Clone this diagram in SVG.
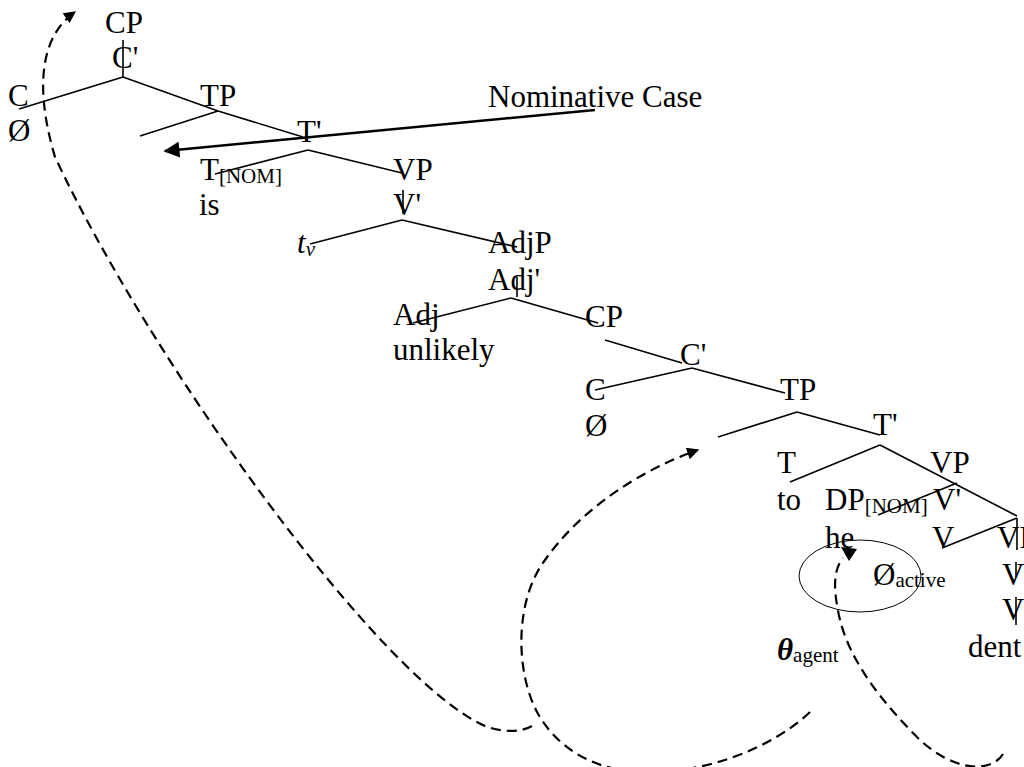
<svg xmlns="http://www.w3.org/2000/svg" width="1024" height="767" viewBox="0 0 1024 767">
<style>
  text { font-family: "Liberation Serif", "Times New Roman", serif; font-size: 31px; fill: #000; }
  .s { font-size: 21px; }
  .i { font-style: italic; }
  .tree { stroke: #000; stroke-width: 1.6; fill: none; stroke-linecap: butt; }
  .dash { stroke: #000; stroke-width: 2.2; fill: none; stroke-dasharray: 10 6; }
  .case { stroke: #000; stroke-width: 2.5; fill: none; }
</style>
<defs>
  <marker id="ah" viewBox="0 0 10 10" refX="9" refY="5" markerUnits="userSpaceOnUse" markerWidth="15" markerHeight="12" orient="auto">
    <path d="M0,0 L10,5 L0,10 z" fill="#000" stroke="none"/>
  </marker>
  <marker id="ahbig" viewBox="0 0 10 10" refX="9" refY="5" markerUnits="userSpaceOnUse" markerWidth="18" markerHeight="16" orient="auto">
    <path d="M0,0 L10,5 L0,10 z" fill="#000" stroke="none"/>
  </marker>
</defs>
<rect width="1024" height="767" fill="#fff"/>

<g id="connectors">
  <!-- tree branches -->
  <line class="tree" x1="123" y1="40" x2="123" y2="77"/>
  <line class="tree" x1="123" y1="77" x2="19" y2="109"/>
  <line class="tree" x1="123" y1="77" x2="218" y2="111"/>
  <line class="tree" x1="218" y1="111" x2="140" y2="136"/>
  <line class="tree" x1="218" y1="111" x2="303" y2="137"/>
  <line class="tree" x1="308" y1="150" x2="215" y2="174"/>
  <line class="tree" x1="308" y1="150" x2="402" y2="173"/>
  <line class="tree" x1="403" y1="190" x2="403" y2="214"/>
  <line class="tree" x1="402" y1="220" x2="310" y2="244"/>
  <line class="tree" x1="402" y1="220" x2="517" y2="247"/>
  <line class="tree" x1="517" y1="277" x2="517" y2="297"/>
  <line class="tree" x1="511" y1="298" x2="413" y2="323"/>
  <line class="tree" x1="511" y1="298" x2="598" y2="323"/>
  <line class="tree" x1="605" y1="340" x2="682" y2="363"/>
  <line class="tree" x1="692" y1="368" x2="595" y2="390"/>
  <line class="tree" x1="692" y1="368" x2="785" y2="393"/>
  <line class="tree" x1="797" y1="412" x2="718" y2="437"/>
  <line class="tree" x1="797" y1="412" x2="880" y2="435"/>
  <line class="tree" x1="880" y1="445" x2="790" y2="482"/>
  <line class="tree" x1="880" y1="445" x2="1017" y2="516"/>
  <line class="tree" x1="957" y1="483" x2="878" y2="515"/>
  <line class="tree" x1="1017" y1="518" x2="942" y2="548"/>
  <line class="tree" x1="1017" y1="518" x2="1017" y2="550"/>
  <line class="tree" x1="1016" y1="562" x2="1016" y2="577"/>
  <line class="tree" x1="1016" y1="597" x2="1016" y2="625"/>

  <!-- Nominative Case arrow -->
  <line class="case" x1="595" y1="110" x2="165" y2="151" marker-end="url(#ahbig)"/>

  <!-- dashed movement curves -->
  <path class="dash" d="M532,726 C520,733 500,732 485,726 C380,680 150,360 55,157 C38,100 35,40 75,12" marker-end="url(#ah)"/>
  <path class="dash" d="M810,712 C770,750 700,775 640,772 C590,770 555,745 537,712 C515,670 515,600 545,560 C580,510 640,470 698,450" marker-end="url(#ah)"/>
  <path class="dash" d="M1003,754 C990,775 950,770 917,737 C880,700 850,660 840,620 C833,590 833,570 843,558"/>
  <polygon points="841,547 857,549 849,561" fill="#000"/>

  <!-- circle around null subject -->
  <ellipse cx="860" cy="576" rx="61" ry="36" fill="none" stroke="#000" stroke-width="1"/>
</g>

<g id="n-CP"><text x="105" y="33">CP</text></g>
<g id="n-Cbar"><text x="112" y="68">C'</text></g>
<g id="n-C"><text x="8" y="106">C</text><text x="8" y="141">Ø</text></g>
<g id="n-TP"><text x="200" y="106">TP</text></g>
<g id="n-Tbar"><text x="297" y="142">T'</text></g>
<g id="n-T"><text x="200" y="180">T<tspan class="s" dy="3">[NOM]</tspan></text><text x="199" y="215">is</text></g>
<g id="n-Nom"><text x="488" y="107">Nominative Case</text></g>
<g id="n-VP"><text x="393" y="180">VP</text></g>
<g id="n-Vbar"><text x="393" y="215">V'</text></g>
<g id="n-tv"><text x="297" y="253" class="i">t<tspan class="s" dy="3">v</tspan></text></g>
<g id="n-AdjP"><text x="488" y="253">AdjP</text></g>
<g id="n-Adjbar"><text x="488" y="290">Adj'</text></g>
<g id="n-Adj"><text x="393" y="325">Adj</text><text x="393" y="360">unlikely</text></g>
<g id="n-CP2"><text x="585" y="327">CP</text></g>
<g id="n-Cbar2"><text x="680" y="365">C'</text></g>
<g id="n-C2"><text x="585" y="400">C</text><text x="585" y="436">Ø</text></g>
<g id="n-TP2"><text x="780" y="400">TP</text></g>
<g id="n-Tbar2"><text x="873" y="435">T'</text></g>
<g id="n-T2"><text x="777" y="473">T</text><text x="777" y="510">to</text></g>
<g id="n-VP2"><text x="930" y="473">VP</text></g>
<g id="n-DP"><text x="825" y="510">DP<tspan class="s" dy="3">[NOM]</tspan></text><text x="825" y="548">he</text></g>
<g id="n-Vbar2"><text x="933" y="510">V'</text></g>
<g id="n-V2"><text x="932" y="548">V</text></g>
<g id="n-null"><text x="873" y="585">Ø<tspan class="s" dy="2">active</tspan></text></g>
<g id="n-VP3"><text x="997" y="548">VP</text></g>
<g id="n-Vbar3"><text x="1002" y="585">V</text></g>
<g id="n-V3"><text x="1002" y="620">V</text><text x="968" y="657">dent</text></g>
<g id="n-theta"><text x="777" y="660" font-weight="bold" font-style="italic" font-size="29">θ<tspan class="s" font-weight="normal" font-style="normal" dy="2">agent</tspan></text></g>
</svg>
